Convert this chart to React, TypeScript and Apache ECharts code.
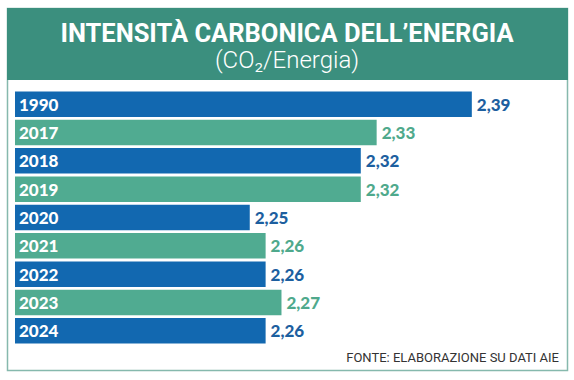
import React, { useEffect, useRef } from "react";
import * as echarts from "echarts";

const years = ["1990", "2017", "2018", "2019", "2020", "2021", "2022", "2023", "2024"];
const values = [2.39, 2.33, 2.32, 2.32, 2.25, 2.26, 2.26, 2.27, 2.26];
const titleText = "INTENSITÀ CARBONICA DELL’ENERGIA";
const subtitleText = "(CO₂/Energia)";
const sourceText = "FONTE: ELABORAZIONE SU DATI AIE";

const BLUE = "#1268b0";
const GREEN = "#50ab91";
const BLUE_TXT = "#1d5f9f";
const GREEN_TXT = "#4fa98c";
const TEAL = "#3b8f7e";

export default function App() {
  const ref = useRef<HTMLDivElement>(null);
  useEffect(() => {
    const chart = echarts.init(ref.current!, null, { renderer: "svg" });
    chart.setOption({
      animation: false,
      backgroundColor: "#ffffff",
      grid: { left: 15, right: 7, top: 90, bottom: 35, containLabel: false },
      xAxis: {
        type: "value",
        min: 2.102,
        max: 2.45,
        show: false,
      },
      yAxis: {
        type: "category",
        data: years,
        inverse: true,
        z: 10,
        axisLine: { show: false },
        axisTick: { show: false },
        splitLine: { show: false },
        axisLabel: {
          inside: true,
          margin: 4,
          color: "#ffffff",
          fontFamily: "Lato, Roboto, sans-serif",
          fontWeight: 900,
          fontSize: 17,
        },
      },
      series: [
        {
          type: "bar",
          barCategoryGap: "10%",
          data: values.map((v, i) => ({
            value: v,
            itemStyle: { color: i % 2 === 0 ? BLUE : GREEN },
            label: { color: i % 2 === 0 ? BLUE_TXT : GREEN_TXT },
          })),
          label: {
            show: true,
            position: "right",
            distance: 5,
            fontFamily: "Lato, Roboto, sans-serif",
            fontWeight: 900,
            fontSize: 17,
            formatter: (p: any) => p.value.toFixed(2).replace(".", ","),
          },
        },
      ],
      graphic: [
        {
          type: "rect",
          z: -10,
          shape: { x: 7.5, y: 8.5, width: 560, height: 362 },
          style: { fill: "#ffffff", stroke: "#86b9ad", lineWidth: 1.5 },
        },
        {
          type: "rect",
          z: -5,
          shape: { x: 7, y: 8, width: 561, height: 72 },
          style: { fill: TEAL },
        },
        {
          type: "text",
          x: 287,
          y: 33,
          style: {
            text: titleText,
            fill: "#ffffff",
            fontFamily: "Roboto, sans-serif",
            fontWeight: 700,
            fontSize: 25.5,
            align: "center",
            verticalAlign: "middle",
          },
        },
        {
          type: "text",
          x: 287,
          y: 60,
          style: {
            text: subtitleText,
            fill: "#ffffff",
            fontFamily: "Roboto, sans-serif",
            fontWeight: 300,
            fontSize: 24,
            align: "center",
            verticalAlign: "middle",
          },
        },
        {
          type: "text",
          x: 559,
          y: 357,
          style: {
            text: sourceText,
            fill: "#333333",
            fontFamily: "Roboto, sans-serif",
            fontWeight: 400,
            fontSize: 13,
            align: "right",
            verticalAlign: "middle",
          },
        },
      ],
    });
    return () => chart.dispose();
  }, []);
  return <div ref={ref} style={{ width: 574, height: 380, position: "fixed", left: 0, top: 0 }} />;
}
